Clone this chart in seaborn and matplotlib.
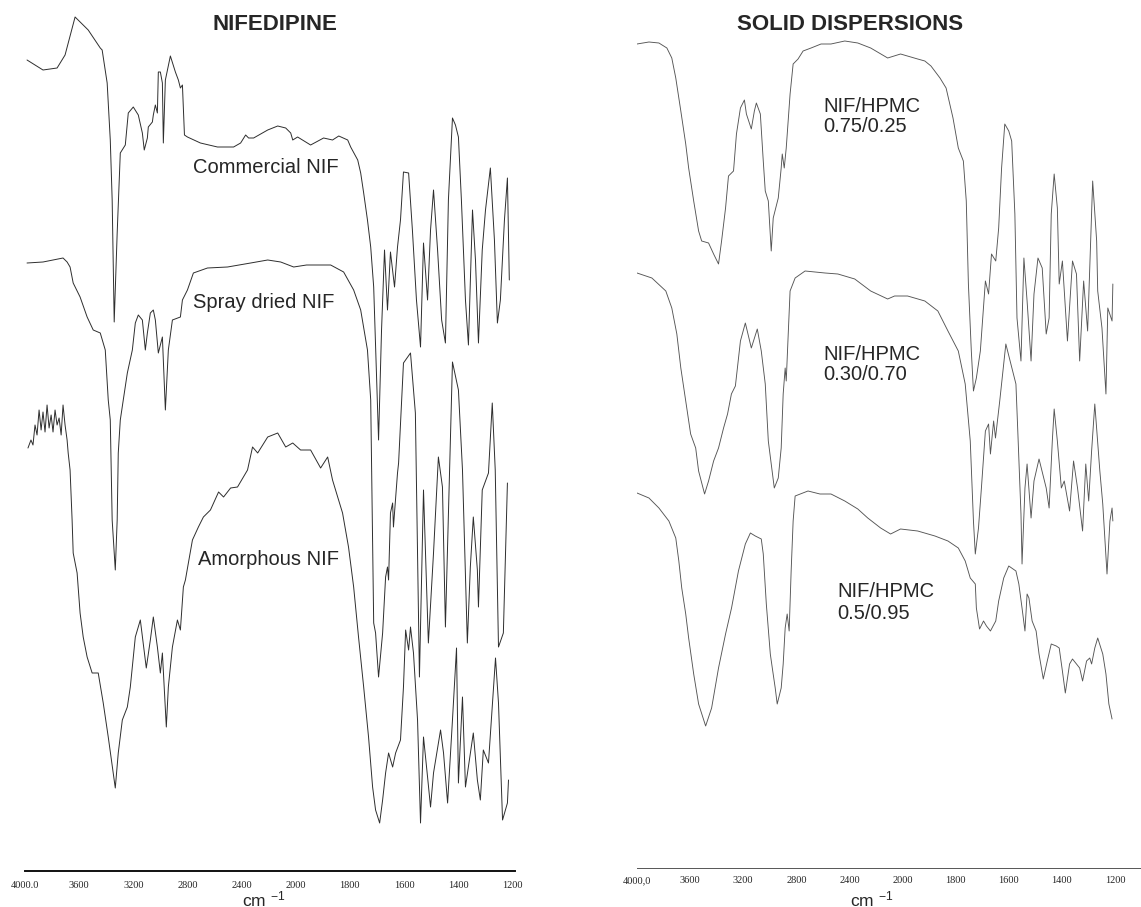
import numpy as np
import pandas as pd
import seaborn as sns
import matplotlib
matplotlib.use('Agg')
import matplotlib.pyplot as plt

# FTIR spectra: wavenumber (cm-1) and trace height (arbitrary units)
# left panel - nifedipine
commercial_wn = [3985, 3867, 3763, 3704, 3630, 3533, 3444, 3430, 3393, 3370, 3356, 3341, 3319, 3296, 3259,
                 3237, 3200, 3163, 3133, 3119, 3096, 3089, 3059, 3052, 3037, 3022, 3015, 3000, 2985, 2978,
                 2963, 2926, 2889, 2867, 2852, 2837, 2822, 2800, 2704, 2578, 2459, 2407, 2370, 2348, 2311,
                 2207, 2133, 2074, 2037, 2022, 1993, 1945, 1897, 1864, 1841, 1808, 1797, 1771, 1760, 1749,
                 1735, 1723, 1712, 1701, 1694, 1683, 1672, 1661, 1650, 1635, 1624, 1613, 1602, 1583, 1569,
                 1554, 1539, 1528, 1513, 1502, 1491, 1476, 1461, 1447, 1436, 1421, 1410, 1399, 1388, 1373,
                 1362, 1347, 1336, 1325, 1311, 1299, 1281, 1266, 1255, 1244, 1229, 1218, 1211]
commercial_t = [811, 801, 803, 816, 854, 841, 823, 821, 788, 731, 671, 549, 638, 718, 726,
                758, 764, 756, 738, 721, 733, 744, 749, 756, 766, 758, 799, 799, 788, 728,
                791, 815, 799, 791, 783, 786, 736, 734, 728, 724, 724, 728, 736, 733, 733,
                741, 745, 743, 738, 731, 734, 726, 733, 731, 735, 731, 724, 711, 698, 678,
                651, 624, 584, 491, 431, 541, 621, 561, 619, 584, 624, 651, 699, 698, 641,
                571, 524, 628, 571, 641, 681, 621, 551, 528, 671, 753, 746, 734, 671, 571,
                526, 661, 611, 528, 621, 661, 703, 631, 548, 571, 651, 693, 591]

spray_wn = [3985, 3867, 3793, 3719, 3689, 3667, 3644, 3593, 3541, 3496, 3444, 3407, 3385, 3370, 3356,
            3333, 3319, 3311, 3296, 3274, 3244, 3207, 3185, 3163, 3133, 3111, 3096, 3074, 3052, 3037,
            3015, 2985, 2963, 2941, 2911, 2852, 2837, 2800, 2756, 2652, 2504, 2333, 2207, 2111, 2015,
            1960, 1908, 1871, 1823, 1786, 1760, 1735, 1723, 1712, 1705, 1694, 1679, 1668, 1661, 1657,
            1650, 1642, 1639, 1624, 1620, 1602, 1576, 1558, 1543, 1528, 1510, 1491, 1473, 1458, 1447,
            1421, 1399, 1384, 1366, 1355, 1344, 1329, 1325, 1311, 1288, 1274, 1263, 1251, 1233, 1218]
spray_t = [608, 609, 611, 613, 609, 604, 588, 574, 554, 541, 538, 521, 471, 451, 351,
           301, 351, 418, 451, 471, 498, 521, 548, 556, 551, 521, 538, 558, 561, 551,
           518, 534, 461, 521, 551, 554, 571, 581, 598, 603, 604, 608, 611, 609, 604,
           606, 606, 606, 599, 581, 561, 521, 471, 248, 238, 194, 238, 294, 304, 291,
           358, 368, 344, 398, 408, 508, 518, 458, 194, 381, 228, 318, 414, 384, 244,
           509, 481, 401, 228, 304, 354, 301, 264, 381, 398, 468, 401, 224, 238, 388]

amorph_wn = [3978, 3956, 3941, 3926, 3911, 3896, 3881, 3867, 3852, 3837, 3822, 3807, 3793, 3778, 3763,
             3748, 3733, 3719, 3704, 3689, 3681, 3667, 3652, 3644, 3615, 3593, 3570, 3541, 3504, 3459,
             3422, 3385, 3333, 3311, 3281, 3244, 3222, 3185, 3148, 3104, 3074, 3052, 3022, 3000, 2985,
             2956, 2941, 2911, 2874, 2852, 2830, 2815, 2793, 2763, 2719, 2682, 2630, 2570, 2533, 2481,
             2430, 2356, 2319, 2281, 2207, 2133, 2074, 2022, 1982, 1945, 1908, 1882, 1864, 1845, 1827,
             1805, 1786, 1768, 1749, 1731, 1716, 1705, 1690, 1679, 1668, 1657, 1642, 1631, 1613, 1602,
             1594, 1583, 1576, 1565, 1550, 1539, 1528, 1513, 1502, 1491, 1465, 1454, 1439, 1421, 1406,
             1399, 1384, 1373, 1344, 1329, 1318, 1307, 1288, 1262, 1251, 1236, 1218, 1214]
amorph_t = [423, 431, 426, 446, 436, 461, 441, 459, 439, 466, 443, 456, 439, 461, 446,
            453, 436, 466, 446, 431, 418, 401, 351, 318, 298, 258, 234, 214, 198, 198,
            168, 134, 83, 118, 151, 164, 184, 234, 251, 203, 231, 254, 224, 198, 218,
            144, 184, 224, 251, 241, 284, 291, 308, 331, 344, 354, 361, 379, 374, 383,
            384, 401, 424, 418, 434, 438, 424, 428, 421, 421, 403, 414, 391, 374, 358,
            324, 284, 234, 184, 134, 84, 61, 48, 71, 98, 118, 104, 118, 131, 184,
            241, 221, 244, 218, 151, 48, 134, 94, 64, 98, 141, 118, 68, 151, 223,
            88, 174, 84, 138, 91, 71, 121, 108, 213, 168, 51, 68, 91]

# right panel - solid dispersions
hpmc25_wn = [4000, 3910, 3835, 3775, 3738, 3708, 3670, 3633, 3611, 3573, 3536, 3513, 3461, 3423, 3386,
             3363, 3333, 3311, 3273, 3251, 3221, 3191, 3176, 3139, 3116, 3101, 3071, 3049, 3034, 3011,
             2989, 2974, 2936, 2914, 2906, 2891, 2876, 2847, 2824, 2787, 2749, 2689, 2614, 2539, 2435,
             2337, 2240, 2112, 2015, 1943, 1916, 1893, 1859, 1836, 1810, 1790, 1771, 1760, 1752, 1741,
             1733, 1722, 1707, 1688, 1676, 1665, 1649, 1638, 1627, 1615, 1600, 1589, 1577, 1569, 1554,
             1543, 1531, 1516, 1505, 1490, 1474, 1459, 1448, 1440, 1429, 1417, 1410, 1398, 1379, 1360,
             1345, 1333, 1318, 1303, 1295, 1284, 1269, 1265, 1249, 1234, 1227, 1211, 1208]
hpmc25_t = [824, 826, 825, 820, 810, 790, 757, 724, 700, 667, 637, 627, 625, 614, 604,
            627, 660, 692, 697, 734, 760, 768, 754, 739, 757, 765, 754, 707, 677, 667,
            617, 650, 670, 700, 714, 700, 720, 774, 804, 809, 817, 820, 824, 824, 827,
            825, 820, 810, 814, 809, 807, 802, 790, 780, 750, 720, 707, 667, 584, 517,
            477, 490, 517, 587, 574, 614, 607, 640, 700, 744, 737, 727, 654, 550, 507,
            610, 567, 507, 574, 610, 600, 534, 550, 654, 694, 660, 584, 607, 527, 607,
            594, 507, 587, 537, 600, 687, 627, 577, 540, 474, 560, 547, 584]

hpmc70_wn = [4000, 3888, 3783, 3738, 3700, 3670, 3633, 3596, 3558, 3536, 3491, 3461, 3423, 3386, 3348,
             3318, 3289, 3259, 3221, 3184, 3139, 3094, 3064, 3034, 3011, 2989, 2966, 2936, 2914, 2899,
             2884, 2876, 2861, 2847, 2809, 2734, 2584, 2487, 2360, 2240, 2112, 2060, 1981, 1916, 1867,
             1829, 1790, 1764, 1745, 1733, 1726, 1714, 1703, 1688, 1676, 1669, 1657, 1650, 1634, 1611,
             1592, 1573, 1566, 1554, 1550, 1539, 1531, 1516, 1505, 1486, 1459, 1448, 1436, 1429, 1417,
             1402, 1391, 1371, 1356, 1341, 1322, 1310, 1299, 1288, 1276, 1257, 1246, 1230, 1219, 1211, 1208]
hpmc70_t = [595, 590, 577, 560, 534, 500, 467, 434, 420, 397, 374, 387, 407, 420, 440,
            454, 474, 482, 527, 545, 520, 539, 517, 484, 427, 404, 380, 390, 420, 474,
            500, 487, 534, 577, 590, 597, 595, 594, 589, 577, 569, 572, 572, 567, 557,
            537, 517, 484, 427, 347, 314, 340, 380, 437, 444, 414, 447, 430, 467, 524,
            504, 484, 437, 354, 304, 380, 404, 350, 387, 409, 380, 360, 427, 459, 427,
            380, 387, 357, 407, 380, 337, 404, 367, 417, 464, 397, 364, 294, 347, 360, 347]

hpmc95_wn = [4000, 3910, 3835, 3760, 3708, 3685, 3663, 3633, 3611, 3573, 3536, 3483, 3438, 3386, 3333,
             3288, 3236, 3184, 3146, 3109, 3064, 3049, 3026, 2996, 2981, 2959, 2944, 2914, 2899, 2884,
             2869, 2854, 2839, 2824, 2809, 2712, 2622, 2539, 2435, 2337, 2262, 2165, 2090, 2015, 1943,
             1878, 1829, 1790, 1764, 1745, 1726, 1722, 1710, 1695, 1684, 1669, 1649, 1638, 1619, 1600,
             1573, 1562, 1550, 1539, 1531, 1524, 1512, 1497, 1486, 1470, 1455, 1440, 1421, 1410, 1398,
             1387, 1371, 1360, 1345, 1333, 1322, 1307, 1295, 1288, 1276, 1265, 1246, 1234, 1223, 1211]
hpmc95_t = [375, 370, 360, 347, 330, 307, 280, 254, 230, 194, 164, 142, 160, 200, 234,
            260, 297, 324, 335, 332, 329, 314, 264, 214, 200, 180, 164, 180, 204, 240,
            254, 237, 297, 347, 372, 377, 374, 374, 367, 359, 350, 340, 334, 339, 337,
            332, 327, 320, 307, 290, 284, 260, 239, 247, 242, 237, 247, 267, 290, 302,
            297, 284, 260, 237, 274, 270, 247, 237, 214, 189, 207, 224, 222, 220, 197,
            175, 204, 209, 204, 200, 187, 207, 210, 204, 220, 230, 214, 194, 164, 149]

left_labels = ['Commercial NIF', 'Spray dried NIF', 'Amorphous NIF']
right_labels = [('NIF/HPMC', '0.75/0.25'), ('NIF/HPMC', '0.30/0.70'), ('NIF/HPMC', '0.5/0.95')]
tick_wn = [4000, 3600, 3200, 2800, 2400, 2000, 1800, 1600, 1400, 1200]


# the spectrometer chart doubles its scale below 2000 cm-1
def fwd(w):
    w = np.asarray(w, dtype=float)
    return np.where(w >= 2000, (4000 - w) / 400, 5 + (2000 - w) / 200)


def inv(p):
    p = np.asarray(p, dtype=float)
    return np.where(p <= 5, 4000 - 400 * p, 2000 - 200 * (p - 5))


sns.set_style('white')
plt.rcParams['font.family'] = ['Liberation Sans', 'DejaVu Sans']
plt.rcParams['mathtext.fontset'] = 'custom'
plt.rcParams['mathtext.rm'] = 'Liberation Sans'
plt.rcParams['mathtext.it'] = 'Liberation Sans'

W, H = 1141, 907
fig = plt.figure(figsize=(W / 100, H / 100), dpi=100)


def px(x, y):
    return x / W, 1 - y / H


ax_l = fig.add_axes([25 / W, 1 - 871 / H, (515 - 25) / W, 871 / H])
ax_r = fig.add_axes([637 / W, 1 - 868 / H, (1141 - 637) / W, 868 / H])

left_sets = [(commercial_wn, commercial_t), (spray_wn, spray_t), (amorph_wn, amorph_t)]
right_sets = [(hpmc25_wn, hpmc25_t), (hpmc70_wn, hpmc70_t), (hpmc95_wn, hpmc95_t)]

for wn, t in left_sets:
    df = pd.DataFrame({'wn': wn, 't': t})
    sns.lineplot(data=df, x='wn', y='t', ax=ax_l, sort=False, estimator=None,
                 color='#2e2e2e', lw=0.7)
for wn, t in right_sets:
    df = pd.DataFrame({'wn': wn, 't': t})
    sns.lineplot(data=df, x='wn', y='t', ax=ax_r, sort=False, estimator=None,
                 color='#555555', lw=0.65)

for ax, right_end, top, lab, pad in [(ax_l, 1190, 871, '4000.0', 4), (ax_r, 1102, 868, '4000,0', 3)]:
    ax.set_xscale('function', functions=(fwd, inv))
    # forward map decreases with wavenumber, so the limits go low -> high here
    ax.set_xlim(right_end, 4000)
    ax.set_ylim(0, top)
    ax.set_xticks(tick_wn)
    ax.set_xticklabels([lab] + [str(v) for v in tick_wn[1:]],
                       fontfamily='Liberation Serif', fontsize=7.5)
    ax.set_yticks([])
    ax.set_xlabel('')
    ax.set_ylabel('')
    ax.minorticks_off()
    ax.patch.set_alpha(0)
    sns.despine(ax=ax, left=True)
    ax.tick_params(axis='x', direction='out', length=3, width=0.6, pad=pad, color='#333333')

ax_l.spines['bottom'].set_linewidth(1.4)
ax_l.spines['bottom'].set_color('#111111')
ax_r.spines['bottom'].set_linewidth(0.7)
ax_r.spines['bottom'].set_color('#555555')

# titles and annotations
fig.text(*px(275, 24), 'NIFEDIPINE', ha='center', va='center', fontsize=16, fontweight='bold')
fig.text(*px(850, 24), 'SOLID DISPERSIONS', ha='center', va='center', fontsize=16, fontweight='bold')

for (x, y), s in zip([(266, 173), (264, 308), (268, 565)], left_labels):
    fig.text(*px(x, y), s, ha='center', va='baseline', fontsize=14.5)

for (x, y1, y2), (s1, s2) in zip([(823, 112, 132), (823, 360, 380), (837, 597, 619)], right_labels):
    fig.text(*px(x, y1), s1, ha='left', va='baseline', fontsize=14.5)
    fig.text(*px(x, y2), s2, ha='left', va='baseline', fontsize=14.5)

fig.text(*px(264, 906), r'cm $^{\mathrm{-1}}$', ha='center', va='baseline', fontsize=12.5)
fig.text(*px(872, 906), r'cm $^{\mathrm{-1}}$', ha='center', va='baseline', fontsize=12.5)

fig.savefig('out.png', dpi=100)
